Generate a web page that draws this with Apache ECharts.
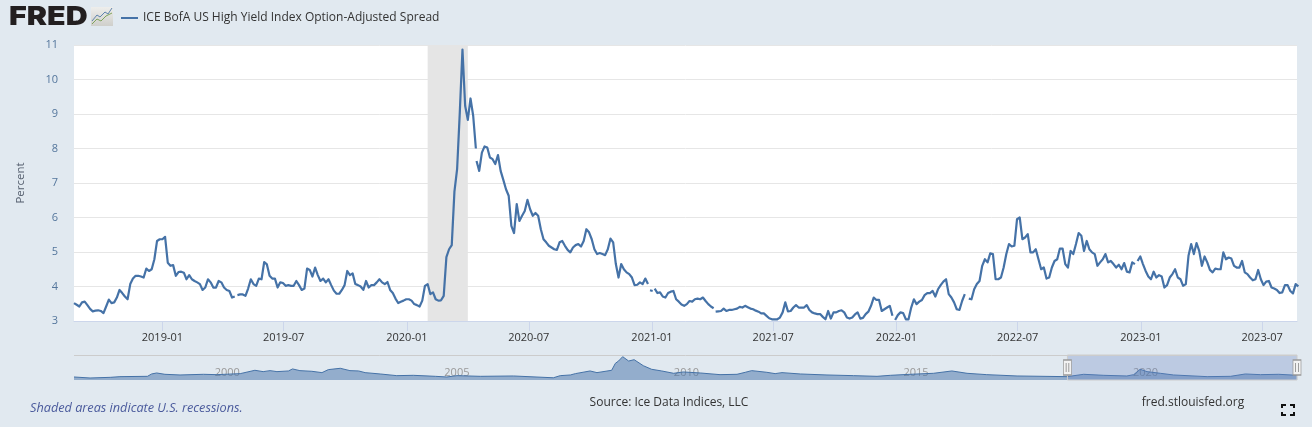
<!DOCTYPE html>
<html><head><meta charset="utf-8">
<style>html,body{margin:0;padding:0;background:#e1e9f0}#c{width:1312px;height:427px}</style>
<script src="https://cdn.jsdelivr.net/npm/echarts@6/dist/echarts.min.js"></script>
</head><body><div id="c"></div>
<script>
const seriesName = 'ICE BofA US High Yield Index Option-Adjusted Spread';
const stepDays = 4;
// readings of the daily line, one value every stepDays, split where the line is broken
const segStarts = ['2018-08-22','2019-04-23','2020-04-14','2020-12-29','2021-01-05','2021-04-06','2021-12-30','2022-04-19','2022-12-27'];
const seg1 = [3.52,3.47,3.42,3.54,3.56,3.46,3.35,3.28,3.30,3.31,3.29,3.23,3.42,3.62,3.52,3.54,3.68,3.90,3.81,3.71,3.63,4.07,4.23,4.31,4.31,4.29,4.26,4.52,4.45,4.50,4.79,5.32,5.37,5.37,5.44,4.69,4.60,4.62,4.31,4.42,4.43,4.40,4.21,4.33,4.21,4.16,4.12,4.07,3.90,3.97,4.21,4.12,3.97,3.97,4.16,4.12,3.97,3.90,3.87,3.68,3.71];
const seg2 = [3.75,3.77,3.77,3.73,3.94,4.21,4.07,4.02,4.23,4.21,4.71,4.64,4.31,4.23,4.23,3.97,4.12,4.10,4.02,4.04,4.02,4.02,4.16,4.04,3.90,3.94,4.52,4.48,4.29,4.55,4.33,4.16,4.23,4.12,4.21,4.04,3.88,3.79,3.79,3.90,4.04,4.45,4.33,4.38,4.07,4.04,4.00,3.90,4.16,3.97,4.04,4.04,4.12,4.21,4.12,4.07,4.13,3.90,3.81,3.65,3.52,3.56,3.59,3.63,3.63,3.59,3.49,3.46,3.42,3.59,4.02,4.07,3.78,3.83,3.63,3.59,3.60,3.73,4.85,5.08,5.20,6.75,7.40,9.04,10.87,9.24,8.83,9.45,8.95,8.00];
const seg3 = [7.64,7.35,7.88,8.06,8.03,7.74,7.69,7.55,7.81,7.35,7.09,6.82,6.63,5.76,5.55,6.39,5.90,6.05,6.19,6.51,6.24,6.05,6.13,6.05,5.66,5.37,5.28,5.18,5.13,5.08,5.06,5.28,5.32,5.18,5.06,4.99,5.13,5.20,5.23,5.16,5.32,5.66,5.57,5.37,5.08,4.94,4.97,4.94,4.91,5.08,5.39,5.28,4.65,4.26,4.65,4.50,4.41,4.36,4.26,4.04,4.05,4.12,4.07,4.23,4.07];
const seg4 = [3.89,3.87];
const seg5 = [3.94,3.81,3.83,3.71,3.68,3.81,3.85,3.87,3.63,3.56,3.48,3.44,3.49,3.58,3.56,3.63,3.65,3.63,3.68,3.58,3.49,3.42,3.37];
const seg6 = [3.27,3.28,3.29,3.36,3.29,3.32,3.32,3.34,3.36,3.41,3.39,3.44,3.40,3.36,3.34,3.30,3.27,3.22,3.22,3.15,3.08,3.05,3.05,3.05,3.10,3.25,3.54,3.28,3.29,3.39,3.46,3.39,3.39,3.39,3.46,3.32,3.25,3.22,3.20,3.20,3.12,3.05,3.29,3.07,3.25,3.25,3.29,3.31,3.25,3.10,3.07,3.10,3.19,3.25,3.07,3.09,3.20,3.27,3.44,3.68,3.61,3.61,3.29,3.34,3.39,3.44,3.15];
const seg7 = [3.03,3.17,3.25,3.23,3.05,3.05,3.39,3.63,3.49,3.56,3.61,3.75,3.81,3.81,3.87,3.71,3.92,4.04,4.14,4.21,3.78,3.68,3.54,3.34,3.32,3.58,3.78];
const seg8 = [3.65,3.63,3.92,4.07,4.16,4.60,4.79,4.70,4.96,4.94,4.21,4.21,4.26,4.55,4.94,5.23,5.16,5.18,5.95,6.00,5.37,5.42,5.52,4.99,4.99,5.08,4.79,4.50,4.55,4.23,4.26,4.55,4.74,4.79,5.10,5.10,4.65,4.55,5.03,4.94,5.23,5.55,5.47,5.03,5.32,5.08,4.99,4.94,4.60,4.70,4.79,4.94,4.70,4.74,4.65,4.55,4.63,4.50,4.68,4.43,4.41,4.70,4.65];
const seg9 = [4.74,4.87,4.65,4.45,4.29,4.21,4.43,4.26,4.33,4.29,3.97,4.04,4.26,4.36,4.50,4.26,4.21,4.02,4.07,4.89,5.23,4.94,5.26,5.03,4.60,4.87,4.70,4.48,4.41,4.52,4.50,4.50,4.99,4.79,4.84,4.81,4.60,4.55,4.55,4.74,4.41,4.36,4.26,4.18,4.21,4.48,4.21,4.04,4.14,4.16,3.97,3.94,3.90,3.81,3.83,4.04,4.04,3.87,3.80,4.07,4.00];
const segments = [seg1,seg2,seg3,seg4,seg5,seg6,seg7,seg8,seg9];

const xTickLabels = ['2019-01','2019-07','2020-01','2020-07','2021-01','2021-07','2022-01','2022-07','2023-01','2023-07'];
const recession = ['2020-02-01','2020-04-01'];
const viewRange = ['2018-08-22','2023-08-22'];

// long history under the navigator: decimal years and readings
const navYears = [1997.0,1997.35,1997.8,1998.0,1998.6,1998.69,1998.8,1998.98,1999.31,1999.82,2000.11,2000.62,2000.94,2001.12,2001.27,2001.42,2001.67,2001.76,2001.92,2002.18,2002.4,2002.54,2002.8,2003.01,2003.2,2003.34,2003.67,2004.03,2004.39,2004.87,2005.12,2005.34,2005.85,2006.57,2007.44,2007.59,2007.81,2007.92,2008.24,2008.39,2008.71,2008.79,2008.86,2008.95,2009.08,2009.2,2009.4,2009.58,2009.8,2010.06,2010.27,2010.64,2011.07,2011.44,2011.62,2011.76,2012.09,2012.27,2012.42,2012.82,2013.4,2013.98,2014.49,2014.78,2015.21,2015.72,2016.12,2016.45,2016.88,2017.54,2018.63,2018.99,2019.43,2019.93,2020.08,2020.22,2020.37,2020.66,2020.95,2021.68,2022.19,2022.51,2022.84,2023.24,2023.64];
const navValues = [2.7,1.8,2.4,3.0,3.3,5.4,6.3,5.1,4.5,5.1,4.8,5.7,8.7,7.5,8.4,7.5,8.1,9.9,8.4,7.8,6.6,9.3,10.5,8.4,8.1,6.6,5.4,3.9,4.2,3.3,2.7,3.9,3.3,3.6,2.0,3.9,4.5,5.7,8.1,6.6,8.7,14.9,17.0,20.9,17.0,18.2,12.8,9.6,8.1,6.0,7.2,6.3,4.8,5.1,6.9,8.4,6.9,5.7,6.6,5.4,4.5,3.9,3.3,4.2,5.1,6.0,8.1,6.0,4.8,3.6,3.0,5.1,4.2,3.6,4.8,9.6,7.5,6.0,4.5,3.0,3.3,5.4,4.8,5.1,4.2];
const navYearLabels = ['2000','2005','2010','2015','2020'];

const ts = s => Date.parse((s.length === 7 ? s + '-01' : s) + 'T00:00:00');
const lineData = [];
segments.forEach((vals, si) => {
  const t0 = ts(segStarts[si]);
  vals.forEach((v, k) => lineData.push([t0 + k * stepDays * 864e5, v]));
  const last = t0 + (vals.length - 1) * stepDays * 864e5;
  if (si < segments.length - 1) lineData.push([last + 864e5, null]);
});
const yearTs = y => ts('1997-01-01') + (y - 1997) * 365.25 * 864e5;
const navData = navYears.map((y, i) => [yearTs(y), navValues[i]]);
const FONT = '"Open Sans", sans-serif';
const fmtMonth = v => { const d = new Date(v); return d.getFullYear() + '-' + String(d.getMonth() + 1).padStart(2, '0'); };

const chart = echarts.init(document.getElementById('c'), null, {renderer: 'canvas'});
chart.setOption({
  backgroundColor: '#e1e9f0',
  animation: false,
  textStyle: {fontFamily: FONT},
  legend: {
    left: 116, top: 7, data: [{name: seriesName, icon: 'rect'}], itemWidth: 17, itemHeight: 2, itemGap: 5, selectedMode: false,
    textStyle: {fontFamily: FONT, fontSize: 12, color: '#333333', padding: [0, 0, 0, 0]}
  },
  title: [
    {text: 'Source: Ice Data Indices, LLC', left: 669, top: 397, padding: 0, textAlign: 'center', textStyle: {fontFamily: FONT, fontSize: 12, fontWeight: 'normal', color: '#333333'}},
    {text: 'fred.stlouisfed.org', left: 1193, top: 397, padding: 0, textAlign: 'center', textStyle: {fontFamily: FONT, fontSize: 12, fontWeight: 'normal', color: '#333333'}},
    {text: 'Shaded areas indicate U.S. recessions.', left: 30, top: 402, padding: 0, textStyle: {fontFamily: FONT, fontSize: 12.7, fontWeight: 'normal', fontStyle: 'italic', color: '#4a5a9c'}}
  ],
  grid: [
    {left: 74, width: 1223, top: 45, height: 276, show: true, backgroundColor: '#ffffff', borderWidth: 0},
    {left: 74, width: 1223, top: 355, height: 25, show: false}
  ],
  xAxis: [
    {type: 'value', gridIndex: 0, min: ts(viewRange[0]), max: ts(viewRange[1]),
      axisLine: {lineStyle: {color: '#ccd6eb', width: 1}},
      axisTick: {show: true, length: 10, lineStyle: {color: '#ccd6eb'}, customValues: xTickLabels.map(ts)},
      axisLabel: {color: '#333333', fontSize: 11, fontFamily: FONT, margin: 11, hideOverlap: false, customValues: xTickLabels.map(ts), formatter: v => fmtMonth(v)},
      splitLine: {show: false}, minorTick: {show: false}},
    {type: 'value', gridIndex: 1, min: yearTs(1997), max: ts(viewRange[1]),
      axisLine: {show: false}, axisTick: {show: false}, splitLine: {show: false},
      axisLabel: {inside: true, color: '#999999', fontSize: 11, fontFamily: FONT, margin: 2, align: 'left', padding: [0, 0, 0, 3], hideOverlap: false,
        customValues: navYearLabels.map(y => ts(y + '-01-01')), formatter: v => String(new Date(v).getFullYear())}}
  ],
  yAxis: [
    {type: 'value', gridIndex: 0, min: 3, max: 11, interval: 1, name: 'Percent', nameLocation: 'middle', nameGap: 47, nameRotate: 90,
      nameTextStyle: {color: '#555f6e', fontSize: 11.5, fontFamily: FONT},
      axisLine: {show: false}, axisTick: {show: false},
      axisLabel: {color: '#54769c', fontSize: 11, fontFamily: FONT, margin: 16, padding: [0, 0, 3, 0]},
      splitLine: {lineStyle: {color: '#e6e6e6', width: 1}}},
    {type: 'value', gridIndex: 1, min: 0, max: 22.4, show: false, splitLine: {show: false}}
  ],
  series: [
    {name: seriesName, type: 'line', xAxisIndex: 0, yAxisIndex: 0, data: lineData, showSymbol: false, symbol: 'none', connectNulls: false, sampling: null,
      lineStyle: {color: '#4572a7', width: 2.2, join: 'round'}, itemStyle: {color: '#4572a7'}, clip: true, z: 3,
      markArea: {silent: true, itemStyle: {color: '#e5e5e5'}, data: [[{xAxis: ts(recession[0])}, {xAxis: ts(recession[1])}]], z: 1}},
    {name: 'nav', type: 'line', xAxisIndex: 1, yAxisIndex: 1, data: navData, showSymbol: false, symbol: 'none',
      lineStyle: {color: '#4572a7', width: 1}, areaStyle: {color: '#4572a7', opacity: 0.5}, z: 2,
      markArea: {silent: true, itemStyle: {color: 'rgba(102,133,194,0.3)', borderColor: '#cccccc', borderWidth: 1}, data: [[{xAxis: ts(viewRange[0])}, {xAxis: ts(viewRange[1])}]], z: 3},
      markLine: {silent: true, symbol: 'none', label: {show: false}, lineStyle: {color: '#cccccc', width: 1, type: 'solid'}, data: [{yAxis: 22.4}]},
      markPoint: {silent: true, symbol: 'rect', symbolSize: [8, 15], itemStyle: {color: '#f2f2f2', borderColor: '#999999', borderWidth: 1},
        label: {show: true, formatter: '||', color: '#777777', fontSize: 8, fontFamily: 'DejaVu Sans', position: 'inside'},
        data: [{coord: [ts(viewRange[0]), 11.2]}, {coord: [ts(viewRange[1]), 11.2]}]}}
  ],
  graphic: [
    {type: 'text', left: 9, top: 4, scaleX: 1.17, style: {text: 'FRED', font: '900 26px Inter', fill: '#231f20'}},
    {type: 'rect', shape: {x: 91, y: 7, width: 22, height: 19}, style: {fill: new echarts.graphic.LinearGradient(0, 0, 0, 1, [{offset: 0, color: '#eeeeec'}, {offset: 1, color: '#cfcfcb'}])}},
    {type: 'polyline', shape: {points: [[92, 21], [97, 15], [100, 17], [105, 12], [108, 14], [112, 8]]}, style: {stroke: '#5f84ad', fill: null, lineWidth: 1}},
    {type: 'polyline', shape: {points: [[92, 24], [97, 19], [101, 21], [106, 16], [112, 13]]}, style: {stroke: '#7fa35c', fill: null, lineWidth: 1}},
    {type: 'polyline', shape: {points: [[1282, 408], [1282, 405], [1286, 405]]}, style: {stroke: '#111', fill: null, lineWidth: 2}},
    {type: 'polyline', shape: {points: [[1290, 405], [1294, 405], [1294, 408]]}, style: {stroke: '#111', fill: null, lineWidth: 2}},
    {type: 'polyline', shape: {points: [[1282, 412], [1282, 415], [1286, 415]]}, style: {stroke: '#111', fill: null, lineWidth: 2}},
    {type: 'polyline', shape: {points: [[1290, 415], [1294, 415], [1294, 412]]}, style: {stroke: '#111', fill: null, lineWidth: 2}}
  ]
});
</script></body></html>
